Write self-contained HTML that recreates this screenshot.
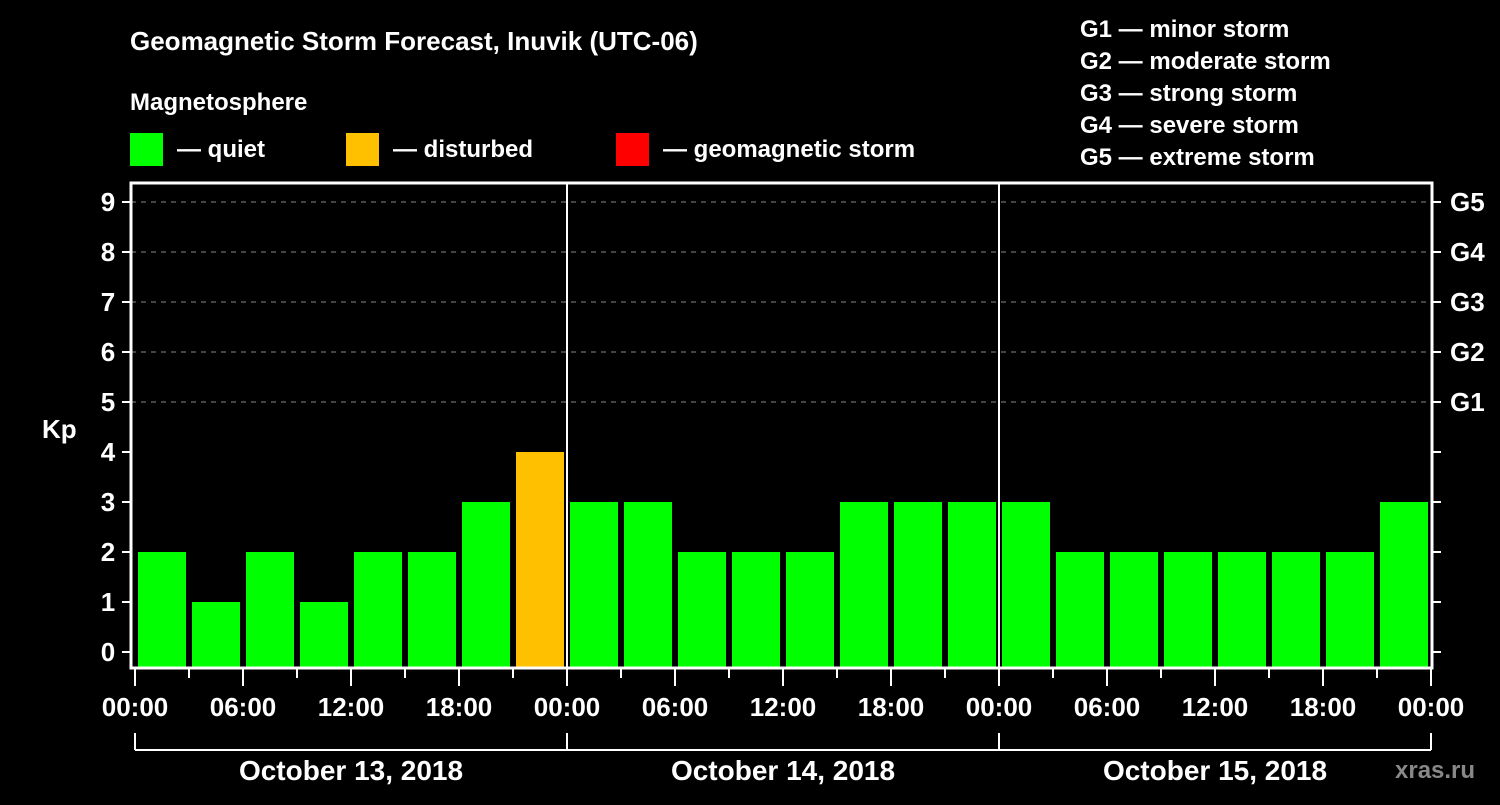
<!DOCTYPE html>
<html><head><meta charset="utf-8"><style>
body{margin:0;background:#000;width:1500px;height:800px;overflow:hidden}
svg text{font-family:"Liberation Sans",Arial,sans-serif;font-weight:bold;fill:#fff}
</style></head><body>
<svg width="1500" height="800" id="chart">
<text x="130" y="50" font-size="26">Geomagnetic Storm Forecast, Inuvik (UTC-06)</text>
<text x="130" y="110" font-size="24">Magnetosphere</text>
<g><rect x="130" y="133" width="33" height="33" fill="#00ff00"/><text x="177" y="157" font-size="24">— quiet</text></g>
<g><rect x="346" y="133" width="33" height="33" fill="#ffc000"/><text x="393" y="157" font-size="24">— disturbed</text></g>
<g><rect x="616" y="133" width="33" height="33" fill="#ff0000"/><text x="663" y="157" font-size="24">— geomagnetic storm</text></g>
<g font-size="24">
<text x="1080" y="37">G1 — minor storm</text><text x="1080" y="69">G2 — moderate storm</text><text x="1080" y="101">G3 — strong storm</text><text x="1080" y="133">G4 — severe storm</text><text x="1080" y="165">G5 — extreme storm</text></g>
<text x="42" y="438" font-size="26">Kp</text>
<text x="1395" y="778" font-size="24" fill="#888" style="fill:#888">xras.ru</text>
<g id="grid"></g><g id="bars"></g><g id="axes"></g>
</svg>
<script>
const kpValues=[2,1,2,1,2,2,3,4, 3,3,2,2,2,3,3,3, 3,2,2,2,2,2,2,3];
const dayLabels=["October 13, 2018","October 14, 2018","October 15, 2018"];
const hourLabels=["00:00","06:00","12:00","18:00"];
const gLabels=["G1","G2","G3","G4","G5"];
const NS="http://www.w3.org/2000/svg";
const L=131,R=1432,T=183,B=668;
const y=v=>652-50*v;
const xh=h=>135+18*h;
function mk(p,tag,a,txt){const e=document.createElementNS(NS,tag);for(const k in a)e.setAttribute(k,a[k]);if(txt!==undefined)e.textContent=txt;document.getElementById(p).appendChild(e);return e;}
for(let v=5;v<=9;v++){const g=mk('grid','line',{x1:L,x2:R,y1:y(v),y2:y(v),stroke:'#888','stroke-dasharray':'5,5','stroke-width':1});

}
kpValues.forEach((v,i)=>{const c=v>=5?'#ff0000':(v>=4?'#ffc000':'#00ff00');
const r=mk('bars','rect',{x:xh(3*i)+3,y:y(v),width:48,height:B-y(v),fill:c});

});
mk('axes','rect',{x:L,y:T,width:R-L,height:B-T,fill:'none',stroke:'#fff','stroke-width':3});
for(let d=1;d<3;d++)mk('axes','line',{x1:xh(24*d),x2:xh(24*d),y1:T,y2:B,stroke:'#fff','stroke-width':2});
for(let v=0;v<=9;v++){mk('axes','line',{x1:122,x2:L,y1:y(v),y2:y(v),stroke:'#fff','stroke-width':2});
mk('axes','line',{x1:R,x2:1441,y1:y(v),y2:y(v),stroke:'#fff','stroke-width':2});
const t=mk('axes','text',{x:108,y:y(v)+9,'font-size':26,'text-anchor':'middle'},String(v));

}
gLabels.forEach((g,i)=>{const t=mk('axes','text',{x:1450,y:y(5+i)+9,'font-size':26},g);

});
for(let h=0;h<=72;h+=3){const major=h%6===0;mk('axes','line',{x1:xh(h),x2:xh(h),y1:B,y2:major?686:678,stroke:'#fff','stroke-width':2});
if(major){const t=mk('axes','text',{x:xh(h),y:716,'font-size':26,'text-anchor':'middle'},hourLabels[(h%24)/6]);

}}
mk('axes','line',{x1:xh(0),x2:xh(72),y1:750,y2:750,stroke:'#fff','stroke-width':2});
for(let d=0;d<=3;d++)mk('axes','line',{x1:xh(24*d),x2:xh(24*d),y1:733,y2:750,stroke:'#fff','stroke-width':2});
dayLabels.forEach((s,d)=>{const t=mk('axes','text',{x:xh(24*d+12),y:780,'font-size':28,'text-anchor':'middle'},s);

});
</script>
</body></html>
